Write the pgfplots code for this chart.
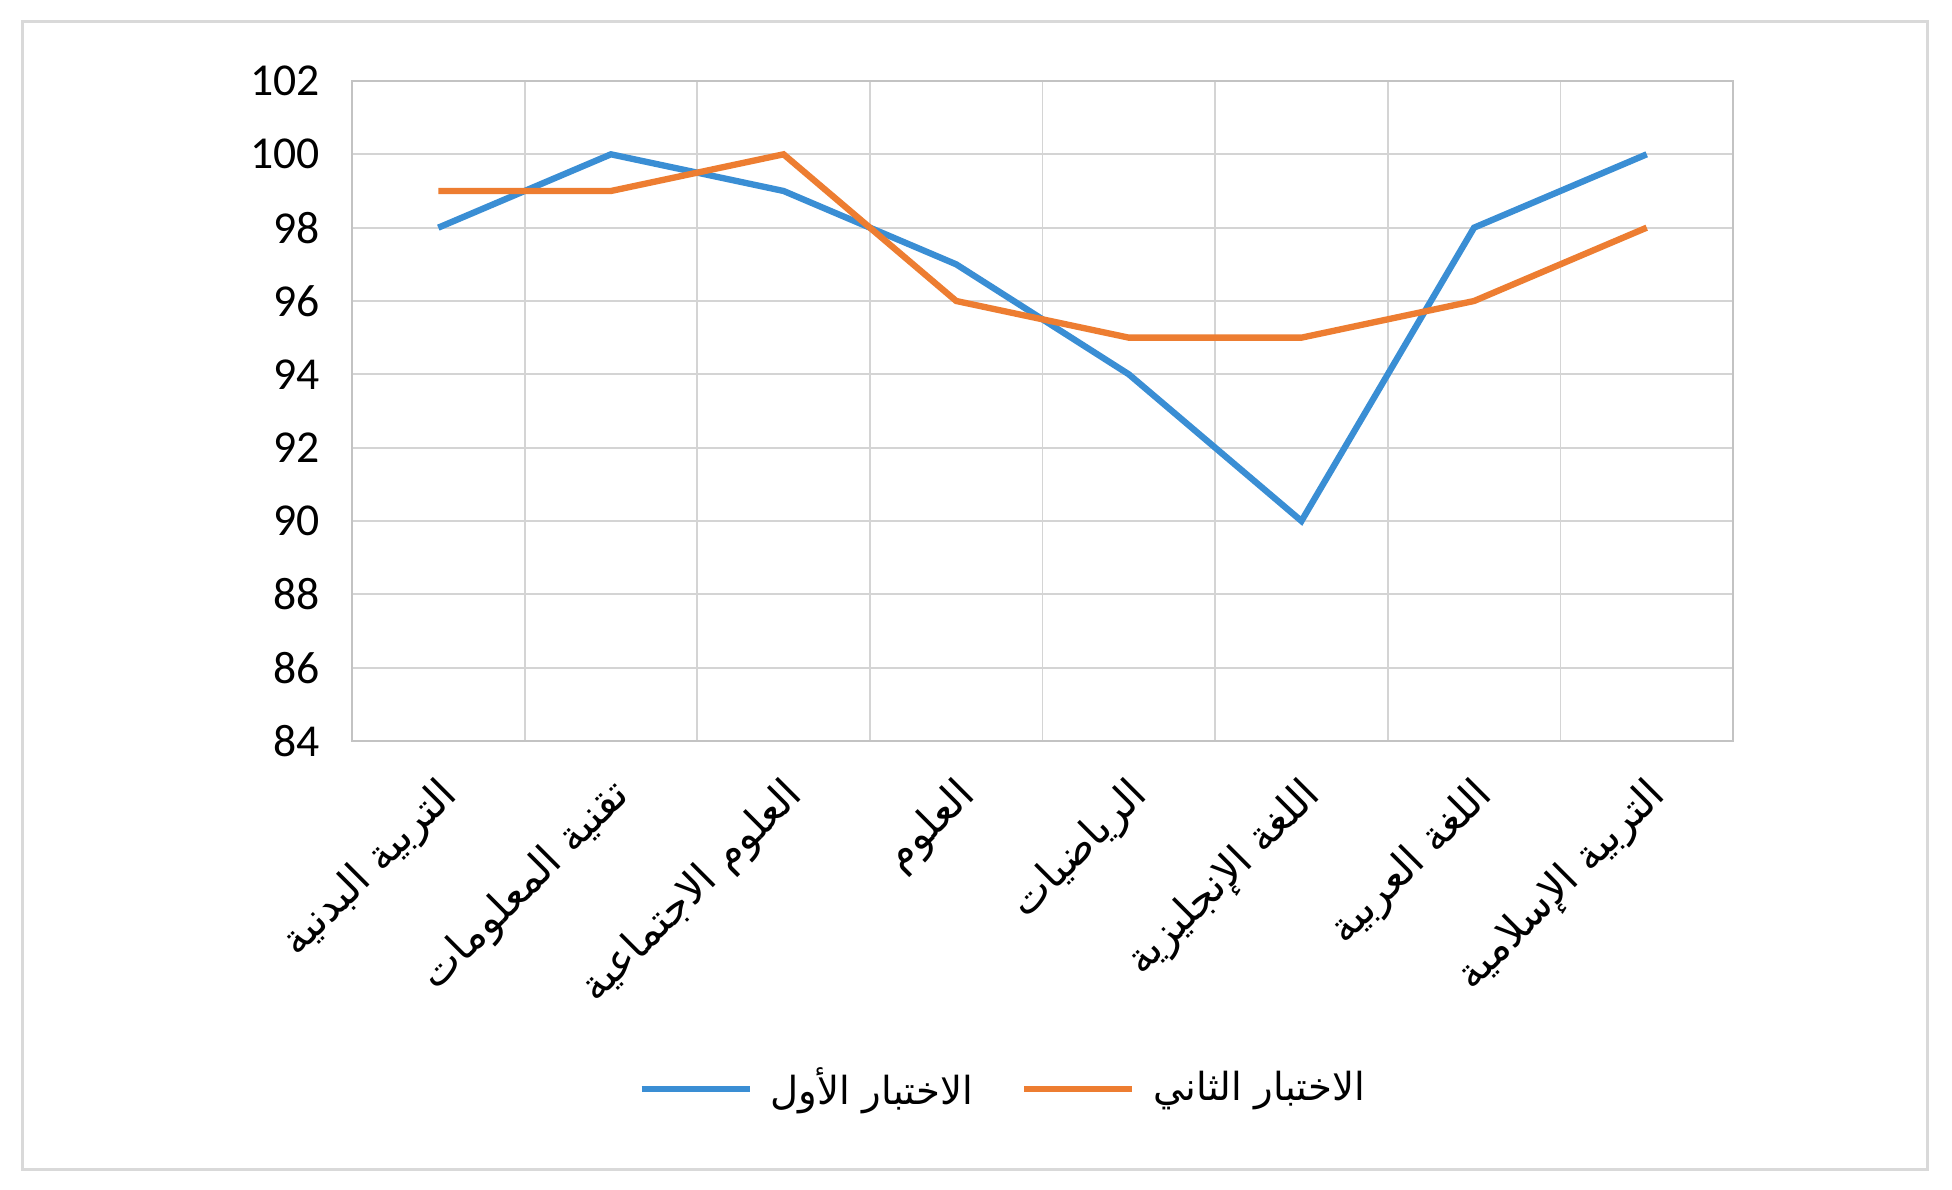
\documentclass[border=0pt]{standalone}
\usepackage{fontspec}
\setmainfont{Carlito}
\newfontfamily\arabicfont[Script=Arabic]{DejaVu Sans}
\TeXXeTstate=1
\usepackage{pgfplots}
\pgfplotsset{compat=1.18}
\definecolor{sblue}{HTML}{3A8ED4}
\definecolor{sorange}{HTML}{ED7D31}
\definecolor{gridc}{HTML}{D4D4D4}
\begin{document}
\begin{tikzpicture}[x=1mm,y=1mm]
\path[use as bounding box, fill=white] (0,0) rectangle (195.2,119);
\draw[gray!30, line width=0.3mm] (2.2,2.0) rectangle (192.7,116.8);
\begin{axis}[
  at={(35.2mm,44.9mm)}, anchor=south west, scale only axis,
  width=138.1mm, height=66mm,
  xmin=-0.5, xmax=7.5, ymin=84, ymax=102,
  ytick={84,86,...,102},
  xtick={0,...,7},
  xticklabels={{\beginR التربية البدنية\endR},{\beginR تقنية المعلومات\endR},{\beginR العلوم الاجتماعية\endR},{\beginR العلوم\endR},{\beginR الرياضيات\endR},{\beginR اللغة الإنجليزية\endR},{\beginR اللغة العربية\endR},{\beginR التربية الإسلامية\endR}},
  minor xtick={0.5,1.5,...,6.5},
  xminorgrids, ymajorgrids,
  grid style={gridc, line width=0.5pt},
  minor grid style={gridc, line width=0.5pt},
  major tick length=0pt, minor tick length=0pt,
  axis line style={gridc!80!gray, line width=0.6pt},
  /pgf/number format/assume math mode=true,
  yticklabel style={font=\fontsize{13}{15}\selectfont, xshift=-2mm},
  xticklabel style={font=\fontsize{12}{14}\selectfont\arabicfont, rotate=45, anchor=east, xshift=-1.3mm, yshift=-4.3mm},
  legend columns=2,
  legend style={at={(0.477,-0.527)}, anchor=center, draw=none, fill=none,
    font=\fontsize{11}{13}\selectfont\arabicfont, /tikz/every even column/.append style={column sep=3mm},
    nodes={inner xsep=1.8mm}},
  legend image code/.code={\draw[#1, line width=1.8pt] (0mm,0mm) -- (10.8mm,0mm);},
]
\addplot[sblue, line width=1.8pt] coordinates {(0,98) (1,100) (2,99) (3,97) (4,94) (5,90) (6,98) (7,100)};
\addlegendentry{\beginR الاختبار الأول\endR}
\addplot[sorange, line width=1.8pt] coordinates {(0,99) (1,99) (2,100) (3,96) (4,95) (5,95) (6,96) (7,98)};
\addlegendentry{\beginR الاختبار الثاني\endR}
\end{axis}
\end{tikzpicture}
\end{document}
